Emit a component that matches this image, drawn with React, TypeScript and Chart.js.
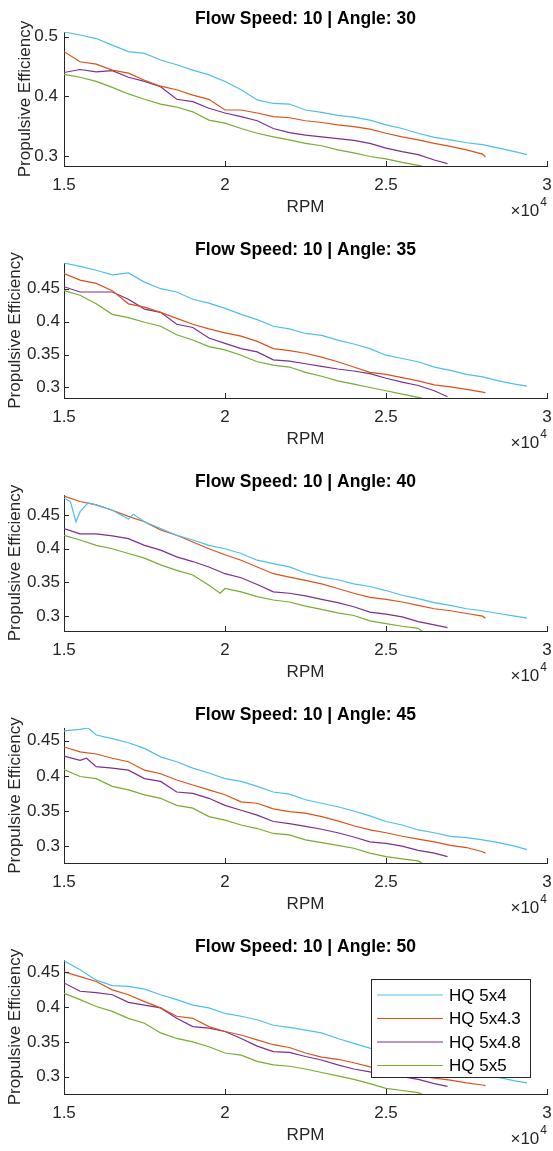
import React, { useEffect, useRef } from "react";
import { Chart, registerables } from "chart.js";

Chart.register(...registerables);

// ---------------- DATA ----------------
const SERIES_LABELS = ["HQ 5x4", "HQ 5x4.3", "HQ 5x4.8", "HQ 5x5"];
const SERIES_COLORS = ["#4DBEEE", "#D95319", "#7E2F8E", "#77AC30"];
const FLOW_SPEED = 10;
const ANGLES = [30, 35, 40, 45, 50];

const RPM_GRID = [
  15000, 15500, 16000, 16500, 17000, 17500, 18000, 18500, 19000, 19500,
  20000, 20500, 21000, 21500, 22000, 22500, 23000, 23500, 24000, 24500,
  25000, 25500, 26000, 26500, 27000, 27500, 28000, 28500, 29000,
];
const END_RPM = [29380, 28090, 26910, 26110];

const X_TICKS = [15000, 20000, 25000, 30000];
const Y_TICKS_A30 = [0.3, 0.4, 0.5];
const Y_TICKS_OTHER = [0.3, 0.35, 0.4, 0.45];
const Y_MIN = [0.283, 0.284, 0.278, 0.276, 0.275];
const Y_MAX = [0.508, 0.489, 0.4797, 0.468, 0.468];

// Angle 30
const A30_5x4 = [0.508,0.503,0.497,0.486,0.475,0.472,0.461,0.453,0.444,0.436,0.425,0.411,0.394,0.388,0.387,0.377,0.373,0.368,0.365,0.360,0.352,0.346,0.338,0.331,0.327,0.322,0.319,0.313,0.307,0.302];
const A30_5x43 = [0.475,0.458,0.454,0.444,0.439,0.427,0.417,0.411,0.402,0.395,0.377,0.377,0.372,0.366,0.364,0.359,0.356,0.352,0.349,0.345,0.338,0.332,0.327,0.321,0.316,0.310,0.303,0.298];
const A30_5x48 = [0.440,0.445,0.441,0.443,0.432,0.425,0.416,0.395,0.391,0.380,0.372,0.366,0.359,0.346,0.339,0.335,0.332,0.329,0.326,0.321,0.313,0.307,0.302,0.293,0.287];
const A30_5x5 = [0.437,0.432,0.425,0.415,0.404,0.395,0.387,0.382,0.374,0.360,0.355,0.346,0.338,0.332,0.327,0.321,0.317,0.310,0.305,0.299,0.295,0.289,0.284,0.283];

// Angle 35
const A35_5x4 = [0.489,0.484,0.478,0.471,0.474,0.460,0.450,0.445,0.434,0.428,0.420,0.411,0.403,0.393,0.389,0.382,0.379,0.372,0.366,0.359,0.349,0.344,0.339,0.331,0.326,0.320,0.316,0.310,0.305,0.302];
const A35_5x43 = [0.473,0.463,0.458,0.447,0.427,0.422,0.414,0.405,0.396,0.389,0.383,0.378,0.370,0.359,0.356,0.352,0.346,0.339,0.331,0.323,0.320,0.315,0.310,0.304,0.301,0.297,0.293,0.292];
const A35_5x48 = [0.453,0.445,0.445,0.445,0.434,0.419,0.414,0.396,0.391,0.375,0.367,0.359,0.354,0.342,0.340,0.336,0.332,0.328,0.325,0.321,0.314,0.308,0.303,0.295,0.286];
const A35_5x5 = [0.447,0.440,0.427,0.411,0.406,0.399,0.393,0.380,0.372,0.362,0.357,0.349,0.339,0.334,0.331,0.323,0.317,0.310,0.305,0.300,0.295,0.290,0.285,0.284];

// Angle 40
const A40_5x4 = [0.475,0.455,0.465,0.457,0.444,0.440,0.430,0.420,0.413,0.405,0.400,0.393,0.383,0.378,0.373,0.364,0.358,0.354,0.348,0.344,0.338,0.331,0.326,0.320,0.316,0.311,0.308,0.304,0.300,0.297];
const A40_5x43 = [0.478,0.470,0.465,0.457,0.448,0.440,0.428,0.420,0.410,0.400,0.391,0.383,0.373,0.363,0.358,0.353,0.348,0.341,0.334,0.328,0.325,0.321,0.316,0.311,0.308,0.304,0.300,0.297];
const A40_5x48 = [0.430,0.422,0.422,0.419,0.415,0.405,0.398,0.388,0.381,0.373,0.363,0.357,0.347,0.336,0.334,0.330,0.325,0.320,0.314,0.306,0.303,0.299,0.292,0.287,0.283];
const A40_5x5 = [0.420,0.413,0.405,0.400,0.393,0.386,0.376,0.368,0.361,0.346,0.341,0.336,0.329,0.324,0.321,0.315,0.310,0.305,0.301,0.293,0.289,0.285,0.282,0.278];

// Angle 45
const A45_5x4 = [0.464,0.466,0.458,0.453,0.447,0.439,0.427,0.420,0.411,0.404,0.396,0.392,0.385,0.377,0.374,0.366,0.361,0.356,0.350,0.343,0.335,0.330,0.323,0.319,0.314,0.312,0.309,0.305,0.300,0.295];
const A45_5x43 = [0.441,0.434,0.431,0.425,0.420,0.408,0.403,0.394,0.387,0.380,0.373,0.363,0.361,0.353,0.349,0.347,0.342,0.336,0.329,0.323,0.319,0.314,0.310,0.306,0.301,0.298,0.292,0.290];
const A45_5x48 = [0.428,0.422,0.413,0.411,0.408,0.396,0.392,0.377,0.375,0.368,0.358,0.351,0.344,0.335,0.332,0.328,0.324,0.319,0.313,0.306,0.304,0.300,0.294,0.290,0.285];
const A45_5x5 = [0.409,0.399,0.396,0.385,0.380,0.373,0.368,0.358,0.354,0.342,0.337,0.330,0.325,0.318,0.316,0.309,0.305,0.301,0.297,0.290,0.285,0.282,0.279,0.276];

// Angle 50
const A50_5x4 = [0.467,0.454,0.439,0.431,0.430,0.426,0.418,0.411,0.403,0.399,0.391,0.387,0.382,0.374,0.371,0.367,0.363,0.355,0.348,0.341,0.335,0.329,0.324,0.318,0.312,0.307,0.304,0.299,0.294,0.291];
const A50_5x43 = [0.451,0.444,0.437,0.425,0.418,0.408,0.399,0.387,0.384,0.372,0.365,0.360,0.353,0.346,0.342,0.334,0.328,0.325,0.320,0.314,0.310,0.305,0.301,0.298,0.295,0.291,0.288,0.287];
const A50_5x48 = [0.435,0.423,0.421,0.418,0.407,0.403,0.399,0.384,0.372,0.370,0.365,0.355,0.344,0.336,0.335,0.329,0.324,0.317,0.311,0.307,0.304,0.300,0.296,0.290,0.286];
const A50_5x5 = [0.420,0.411,0.401,0.394,0.384,0.377,0.363,0.355,0.350,0.343,0.334,0.331,0.322,0.317,0.315,0.311,0.306,0.301,0.296,0.290,0.283,0.280,0.277,0.275];

// extra off-grid readings (rpm, efficiency)
const X_A40_5x4: [number, number][] = [[15200, 0.470], [15370, 0.440], [15750, 0.468], [17150, 0.451]];
const X_A40_5x5: [number, number][] = [[19850, 0.334]];
const X_A45_5x4: [number, number][] = [[15750, 0.468]];
const X_A45_5x48: [number, number][] = [[15700, 0.425]];

const PANEL_SERIES = [
  [A30_5x4, A30_5x43, A30_5x48, A30_5x5],
  [A35_5x4, A35_5x43, A35_5x48, A35_5x5],
  [A40_5x4, A40_5x43, A40_5x48, A40_5x5],
  [A45_5x4, A45_5x43, A45_5x48, A45_5x5],
  [A50_5x4, A50_5x43, A50_5x48, A50_5x5],
];
const PANEL_EXTRAS: ([number, number][] | null)[][] = [
  [null, null, null, null],
  [null, null, null, null],
  [X_A40_5x4, null, null, X_A40_5x5],
  [X_A45_5x4, null, X_A45_5x48, null],
  [null, null, null, null],
];

// ---------------- LAYOUT ----------------
const W = 553;
const CANVAS_H = 220;
const PLOT_LEFT = 64;
const PLOT_RIGHT = 547;
const PANEL_TOP = [32, 263, 495, 728, 960];
const PANEL_BOTTOM = [166, 398, 631, 863, 1094];
const Y_TICK_PAD = [6, 4, 4, 4, 4];
const Y_LABEL_X = [25, 15, 15, 15, 15];
const PAD_TOP = 32;
const FONT = "'Liberation Sans', Arial, Helvetica, sans-serif";
const AX_COLOR = "#262626";

function buildPoints(values: number[], endRpm: number, extras: [number, number][] | null) {
  const pts = values.map((v, i) => ({ x: i < values.length - 1 ? RPM_GRID[i] : endRpm, y: v }));
  if (extras) extras.forEach(([x, y]) => pts.push({ x, y }));
  pts.sort((a, b) => a.x - b.x);
  return pts;
}

function makeDecor(panel: number) {
  return {
    id: "matlabDecor" + panel,
    afterDraw(chart: any) {
      const ctx = chart.ctx;
      const ca = chart.chartArea;
      const xs = chart.scales.x;
      const ys = chart.scales.y;
      ctx.save();
      // inward ticks
      ctx.strokeStyle = AX_COLOR;
      ctx.lineWidth = 1;
      ctx.beginPath();
      xs.ticks.forEach((t: any) => {
        const px = Math.round(xs.getPixelForValue(t.value)) + 0.5;
        ctx.moveTo(px, ca.bottom);
        ctx.lineTo(px, ca.bottom - 5);
      });
      ys.ticks.forEach((t: any) => {
        const py = Math.round(ys.getPixelForValue(t.value)) + 0.5;
        ctx.moveTo(ca.left, py);
        ctx.lineTo(ca.left + 5, py);
      });
      ctx.stroke();

      const cx = (ca.left + ca.right) / 2;
      // title
      ctx.fillStyle = "#000";
      ctx.font = "bold 17.5px " + FONT;
      ctx.textAlign = "center";
      ctx.textBaseline = "middle";
      ctx.fillText(`Flow Speed: ${FLOW_SPEED} | Angle: ${ANGLES[panel]}`, cx, ca.top - 13);
      // x label
      ctx.fillStyle = AX_COLOR;
      ctx.font = "17px " + FONT;
      ctx.fillText("RPM", cx, ca.bottom + 41);
      // y label
      ctx.save();
      ctx.translate(Y_LABEL_X[panel], (ca.top + ca.bottom) / 2);
      ctx.rotate(-Math.PI / 2);
      ctx.fillText("Propulsive Efficiency", 0, 0);
      ctx.restore();
      // exponent
      ctx.textAlign = "right";
      ctx.font = "12px " + FONT;
      const w4 = ctx.measureText("4").width;
      ctx.fillText("4", ca.right, ca.bottom + 37);
      ctx.font = "17px " + FONT;
      ctx.fillText("\u00d710", ca.right - w4 - 1, ca.bottom + 45.5);

      // legend (last panel)
      if (panel === ANGLES.length - 1) {
        const bx = ca.right - 176;
        const by = ca.top + 19;
        const bw = 159;
        const bh = 98;
        ctx.fillStyle = "#fff";
        ctx.fillRect(bx, by, bw, bh);
        ctx.strokeStyle = AX_COLOR;
        ctx.lineWidth = 1;
        ctx.strokeRect(Math.round(bx) + 0.5, Math.round(by) + 0.5, bw, bh);
        ctx.textAlign = "left";
        ctx.textBaseline = "middle";
        ctx.font = "17px " + FONT;
        chart.data.datasets.forEach((ds: any, i: number) => {
          const ry = by + 16 + i * 23.5;
          ctx.strokeStyle = ds.borderColor;
          ctx.lineWidth = 1.2;
          ctx.beginPath();
          ctx.moveTo(bx + 6, ry);
          ctx.lineTo(bx + 72, ry);
          ctx.stroke();
          ctx.fillStyle = "#000";
          ctx.fillText(ds.label, bx + 78, ry + 1);
        });
      }
      ctx.restore();
    },
  };
}

function Panel({ index }: { index: number }) {
  const ref = useRef<HTMLCanvasElement | null>(null);
  useEffect(() => {
    const canvas = ref.current;
    if (!canvas) return;
    const plotH = PANEL_BOTTOM[index] - PANEL_TOP[index];
    const xAxisH = CANVAS_H - PAD_TOP - plotH;
    const yTicks = index === 0 ? Y_TICKS_A30 : Y_TICKS_OTHER;
    const datasets = PANEL_SERIES[index].map((vals, s) => ({
      label: SERIES_LABELS[s],
      data: buildPoints(vals, END_RPM[s], PANEL_EXTRAS[index][s]),
      borderColor: SERIES_COLORS[s],
      backgroundColor: SERIES_COLORS[s],
      borderWidth: 1.2,
      pointRadius: 0,
      tension: 0,
      fill: false,
    }));
    const chart = new Chart(canvas, {
      type: "line",
      data: { datasets },
      options: {
        animation: false,
        responsive: false,
        devicePixelRatio: 1,
        layout: { padding: { top: PAD_TOP, left: 0, right: W - PLOT_RIGHT, bottom: 0 } },
        plugins: {
          legend: { display: false },
          title: { display: false },
          tooltip: { enabled: false },
        },
        scales: {
          x: {
            type: "linear",
            min: 15000,
            max: 30000,
            afterBuildTicks: (scale: any) => {
              scale.ticks = X_TICKS.map((v) => ({ value: v }));
            },
            afterFit: (scale: any) => {
              scale.height = xAxisH;
              scale.paddingLeft = 0;
              scale.paddingRight = 0;
            },
            grid: { display: true, drawOnChartArea: false, drawTicks: false },
            border: { display: true, color: AX_COLOR, width: 1 },
            ticks: {
              padding: 9,
              color: AX_COLOR,
              font: { family: FONT, size: 17 },
              maxRotation: 0,
              autoSkip: false,
              callback: (v: any) => String(Number(v) / 10000),
            },
          },
          y: {
            type: "linear",
            min: Y_MIN[index],
            max: Y_MAX[index],
            afterBuildTicks: (scale: any) => {
              scale.ticks = yTicks.map((v) => ({ value: v }));
            },
            afterFit: (scale: any) => {
              scale.width = PLOT_LEFT;
              scale.paddingTop = 0;
              scale.paddingBottom = 0;
            },
            grid: { display: true, drawOnChartArea: false, drawTicks: false },
            border: { display: true, color: AX_COLOR, width: 1 },
            ticks: {
              padding: Y_TICK_PAD[index],
              color: AX_COLOR,
              font: { family: FONT, size: 17 },
              autoSkip: false,
              callback: (v: any) => String(Math.round(Number(v) * 100) / 100),
            },
          },
        },
      } as any,
      plugins: [makeDecor(index)],
    });
    return () => chart.destroy();
  }, [index]);
  return (
    <canvas
      ref={ref}
      width={W}
      height={CANVAS_H}
      style={{
        position: "absolute",
        left: 0,
        top: PANEL_TOP[index] - PAD_TOP,
        width: W,
        height: CANVAS_H,
      }}
    />
  );
}

export default function App() {
  return (
    <div
      style={{
        position: "absolute",
        left: 0,
        top: 0,
        width: W,
        height: 1151,
        overflow: "hidden",
        background: "#fff",
      }}
    >
      {ANGLES.map((_, i) => (
        <Panel key={i} index={i} />
      ))}
    </div>
  );
}
